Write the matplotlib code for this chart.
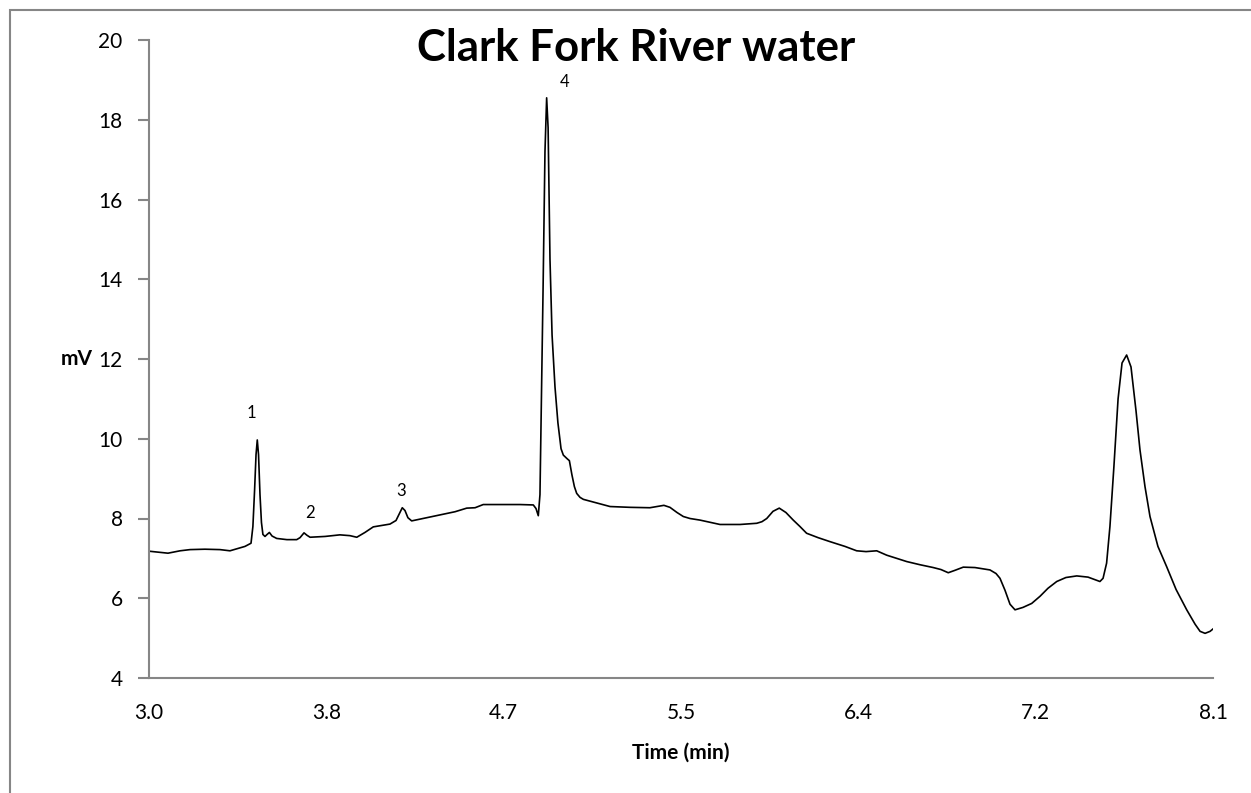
import matplotlib
matplotlib.use("Agg")
import matplotlib.pyplot as plt
from matplotlib.patches import Rectangle

plt.rcParams['font.family'] = ['Lato', 'DejaVu Sans']

# chromatogram trace
time_min = [3.000, 3.053, 3.091, 3.149, 3.197, 3.268, 3.340, 3.388, 3.460, 3.489,
            3.498, 3.506, 3.513, 3.519, 3.525, 3.532, 3.539, 3.546, 3.556, 3.566,
            3.577, 3.590, 3.612, 3.661, 3.708, 3.724, 3.743, 3.757, 3.772, 3.844,
            3.915, 3.963, 3.996, 4.035, 4.075, 4.155, 4.184, 4.214, 4.227, 4.241,
            4.259, 4.323, 4.395, 4.467, 4.523, 4.563, 4.602, 4.682, 4.778, 4.842,
            4.855, 4.866, 4.874, 4.881, 4.889, 4.898, 4.906, 4.913, 4.922, 4.932,
            4.946, 4.960, 4.975, 4.986, 5.004, 5.015, 5.027, 5.039, 5.050, 5.066,
            5.082, 5.138, 5.210, 5.306, 5.401, 5.435, 5.468, 5.497, 5.531, 5.561,
            5.593, 5.641, 5.737, 5.833, 5.913, 5.938, 5.961, 5.991, 6.021, 6.053,
            6.088, 6.120, 6.152, 6.207, 6.264, 6.336, 6.392, 6.437, 6.488, 6.536,
            6.632, 6.696, 6.759, 6.796, 6.831, 6.863, 6.903, 6.959, 7.031, 7.060,
            7.079, 7.103, 7.127, 7.151, 7.189, 7.231, 7.271, 7.309, 7.351, 7.395,
            7.447, 7.501, 7.558, 7.573, 7.590, 7.606, 7.625, 7.645, 7.664, 7.686,
            7.707, 7.731, 7.750, 7.774, 7.798, 7.836, 7.878, 7.923, 7.974, 8.014,
            8.038, 8.062, 8.086, 8.100]
signal_mv = [7.18, 7.15, 7.13, 7.19, 7.22, 7.23, 7.22, 7.19, 7.30, 7.38,
             7.80, 8.70, 9.60, 9.97, 9.60, 8.60, 7.90, 7.60, 7.55, 7.60,
             7.65, 7.56, 7.50, 7.47, 7.47, 7.52, 7.64, 7.58, 7.53, 7.55,
             7.59, 7.57, 7.53, 7.65, 7.79, 7.86, 7.95, 8.27, 8.20, 8.02,
             7.94, 8.01, 8.09, 8.17, 8.26, 8.27, 8.35, 8.35, 8.35, 8.34,
             8.25, 8.07, 8.60, 11.00, 13.80, 17.20, 18.55, 17.80, 14.50, 12.60,
             11.30, 10.40, 9.75, 9.59, 9.50, 9.45, 9.10, 8.80, 8.63, 8.53,
             8.48, 8.40, 8.30, 8.28, 8.27, 8.30, 8.33, 8.28, 8.15, 8.05,
             8.00, 7.96, 7.85, 7.85, 7.88, 7.92, 8.00, 8.18, 8.26, 8.15,
             7.96, 7.80, 7.63, 7.52, 7.42, 7.30, 7.19, 7.17, 7.19, 7.08,
             6.92, 6.84, 6.77, 6.72, 6.64, 6.70, 6.78, 6.77, 6.71, 6.62,
             6.50, 6.20, 5.85, 5.71, 5.77, 5.87, 6.05, 6.25, 6.42, 6.52,
             6.56, 6.53, 6.42, 6.50, 6.88, 7.80, 9.30, 11.00, 11.90, 12.10,
             11.80, 10.70, 9.72, 8.80, 8.05, 7.30, 6.79, 6.22, 5.71, 5.35,
             5.17, 5.12, 5.17, 5.23]

peak_labels = ['1', '2', '3', '4']
peak_label_t = [3.489, 3.772, 4.209, 4.994]
peak_label_y = [10.65, 8.15, 8.70, 18.95]

x_ticks = [3.0, 3.85, 4.7, 5.55, 6.4, 7.25, 8.1]
x_tick_labels = ['3.0', '3.8', '4.7', '5.5', '6.4', '7.2', '8.1']
y_ticks = [4, 6, 8, 10, 12, 14, 16, 18, 20]

axis_grey = '#868686'

fig = plt.figure(figsize=(12.51, 7.93), dpi=100)
ax = fig.add_axes([149 / 1251, 1 - 678 / 793, (1213 - 149) / 1251, (678 - 40) / 793])

# outer chart-area border
fig.patches.append(Rectangle((10 / 1251, -0.05), 1.2, 1 - 10 / 793 + 0.05,
                             transform=fig.transFigure, fill=False,
                             edgecolor=axis_grey, linewidth=1.5))

ax.plot(time_min, signal_mv, color='black', linewidth=1.2)

for lab, t, y in zip(peak_labels, peak_label_t, peak_label_y):
    ax.text(t, y, lab, ha='center', va='center', fontsize=12)

ax.set_xlim(3.0, 8.1)
ax.set_ylim(4, 20)
ax.set_xticks(x_ticks)
ax.set_xticklabels(x_tick_labels)
ax.set_yticks(y_ticks)

for side in ['top', 'right']:
    ax.spines[side].set_visible(False)
for side in ['left', 'bottom']:
    ax.spines[side].set_color(axis_grey)
    ax.spines[side].set_linewidth(1.5)

ax.tick_params(axis='y', direction='out', length=8, width=1.5, color=axis_grey,
               labelsize=15, pad=11)
ax.tick_params(axis='x', length=0, labelsize=15, pad=18)

ax.set_xlabel('Time (min)', fontsize=15, fontweight='bold', labelpad=14)
ax.set_ylabel('mV', fontsize=15, fontweight='bold', rotation=0, ha='right', va='center')
ax.yaxis.set_label_coords(-0.053, 0.5)

fig.text(636 / 1251, 1 - 48 / 793, 'Clark Fork River water', ha='center', va='center',
         fontsize=31.5, fontweight='bold')

fig.savefig('out.png', dpi=100)
